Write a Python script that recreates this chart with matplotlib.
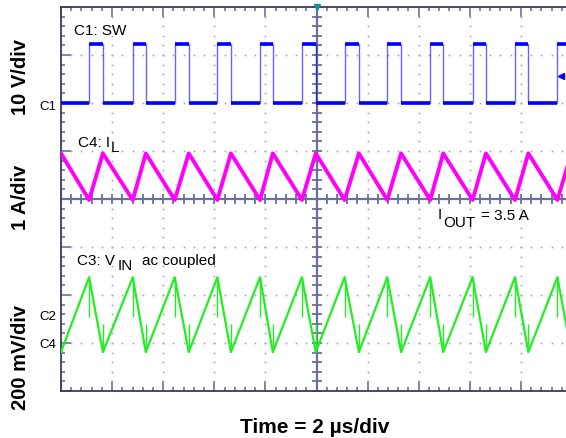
import numpy as np
import matplotlib.pyplot as plt
from matplotlib.ticker import MultipleLocator

plt.rcParams['font.family'] = ['Liberation Sans', 'DejaVu Sans']

# 讀圖得到的切換時間 (µs)
sw_rise = [1.10, 2.81, 4.45, 6.12, 7.79, 9.43, 11.10, 12.77, 14.45, 16.11, 17.77, 19.43]
sw_fall = [1.64, 3.32, 5.00, 6.65, 8.29, 9.97, 11.66, 13.31, 14.96, 16.63, 18.29, 19.97]

# 各通道電位 (格)
sw_low, sw_high = 2.0, 3.22
il_start, il_valley, il_peak = 0.95, -0.02, 0.95
vin_start, vin_valley, vin_peak = -3.19, -3.19, -1.63
vin_spike_dn, vin_spike_up = -2.45, -2.6

# 畫布與座標軸 (像素換算)
W, H = 566, 438
fig = plt.figure(figsize=(W / 100, H / 100), dpi=100)
left, right, top, bottom = 61, 572, 7, 391
ax = fig.add_axes([left / W, 1 - bottom / H, (right - left) / W, (bottom - top) / H])
ax.set_xlim(0, 20)
ax.set_ylim(-4, 4)

gcol = '#6b6f9c'
# 格線點
xs_minor = np.arange(0, 20.01, 0.4)
ys_minor = np.arange(-4, 4.01, 0.2)
for xg in range(2, 20, 2):
    if xg == 10:
        continue
    ax.plot(np.full_like(ys_minor, xg), ys_minor, ls='none', marker='s', ms=1.2, color='#a0a3c6', mew=0)
for yg in range(-3, 4):
    if yg == 0:
        continue
    ax.plot(xs_minor, np.full_like(xs_minor, yg), ls='none', marker='s', ms=1.2, color='#a0a3c6', mew=0)

# 中心十字軸
ax.axhline(0, color=gcol, lw=1.6, zorder=2)
ax.axvline(10, color=gcol, lw=1.6, zorder=2)
ax.plot(xs_minor, np.zeros_like(xs_minor), ls='none', marker='|', ms=7, mew=1.3, color=gcol, zorder=2)
ax.plot(np.full_like(ys_minor, 10), ys_minor, ls='none', marker='_', ms=7, mew=1.3, color=gcol, zorder=2)

# C1: SW
t_sw, v_sw = [0], [sw_low]
for r, f in zip(sw_rise, sw_fall):
    t_sw += [r, r, f, f]
    v_sw += [sw_low, sw_high, sw_high, sw_low]
t_sw.append(20); v_sw.append(sw_low)
ax.plot(t_sw, v_sw, color='#0000ff', lw=1.0, alpha=0.6, zorder=4)
ax.hlines([sw_high] * len(sw_rise), sw_rise, sw_fall, color='#0000ff', lw=2.6, zorder=4)
ax.hlines([sw_low] * len(sw_rise), [0] + sw_fall[:-1], sw_rise, color='#0000ff', lw=2.6, zorder=4)

# C4: IL
t_il, v_il = [0], [il_start]
for r, f in zip(sw_rise, sw_fall):
    t_il += [r, f]
    v_il += [il_valley, il_peak]
t_il.append(20); v_il.append(il_peak)
ax.plot(t_il, v_il, color='#ff00ff', lw=2.8, zorder=4)

# C3: VIN
t_vin, v_vin = [0], [vin_start]
for r, f in zip(sw_rise, sw_fall):
    t_vin += [r, f]
    v_vin += [vin_peak, vin_valley]
t_vin.append(20); v_vin.append(vin_valley)
ax.plot(t_vin, v_vin, color='#22ee22', lw=1.6, zorder=4)
ax.vlines(sw_rise, [vin_spike_dn] * len(sw_rise), [vin_peak] * len(sw_rise), color='#22ee22', lw=1.0, zorder=4)
ax.vlines(sw_fall, [vin_valley + 0.1] * len(sw_fall), [vin_spike_up] * len(sw_fall), color='#22ee22', lw=1.0, zorder=4)

# 觸發標記
ax.plot([19.57], [2.57], marker='<', ms=4, color='#0000ff', clip_on=False, zorder=5)
ax.plot([10], [4], marker='v', ms=5, color='#1a8a9a', clip_on=False, zorder=5)

# 邊框與刻度
for s in ['top', 'left', 'bottom']:
    ax.spines[s].set_color('#3c3c5a')
    ax.spines[s].set_linewidth(1.3)
ax.spines['right'].set_visible(False)
ax.xaxis.set_major_locator(MultipleLocator(2))
ax.xaxis.set_minor_locator(MultipleLocator(0.4))
ax.yaxis.set_major_locator(MultipleLocator(1))
ax.yaxis.set_minor_locator(MultipleLocator(0.2))
ax.tick_params(which='both', direction='in', top=True, right=False, labelbottom=False,
               labelleft=False, color=gcol, width=1.2)
ax.tick_params(which='major', length=7)
ax.tick_params(which='minor', length=3)


def px(x, y):
    return x / W, 1 - y / H


fs = 11
fig.text(*px(74, 35), 'C1: SW', fontsize=fs, va='baseline')
fig.text(*px(78, 147), 'C4: I', fontsize=fs, va='baseline')
fig.text(*px(111, 152), 'L', fontsize=fs, va='baseline')
fig.text(*px(77, 265), 'C3: V', fontsize=fs, va='baseline')
fig.text(*px(118, 270), 'IN', fontsize=fs, va='baseline')
fig.text(*px(142, 265), 'ac coupled', fontsize=fs, va='baseline')
fig.text(*px(438, 219), 'I', fontsize=fs, va='baseline')
fig.text(*px(443, 227), 'OUT', fontsize=fs, va='baseline')
fig.text(*px(481, 220), '= 3.5 A', fontsize=fs, va='baseline')

fig.text(*px(56, 110), 'C1', fontsize=9.5, va='baseline', ha='right')
fig.text(*px(56, 320), 'C2', fontsize=9.5, va='baseline', ha='right')
fig.text(*px(56, 348), 'C4', fontsize=9.5, va='baseline', ha='right')

fig.text(*px(21, 77), '10 V/div', fontsize=14.5, fontweight='bold', rotation=90, ha='center', va='center')
fig.text(*px(21, 197), '1 A/div', fontsize=14.5, fontweight='bold', rotation=90, ha='center', va='center')
fig.text(*px(21, 357), '200 mV/div', fontsize=14.5, fontweight='bold', rotation=90, ha='center', va='center')
fig.text(*px(315, 433), 'Time = 2 µs/div', fontsize=15, fontweight='bold', ha='center', va='baseline')

fig.savefig('out.png', dpi=100)
